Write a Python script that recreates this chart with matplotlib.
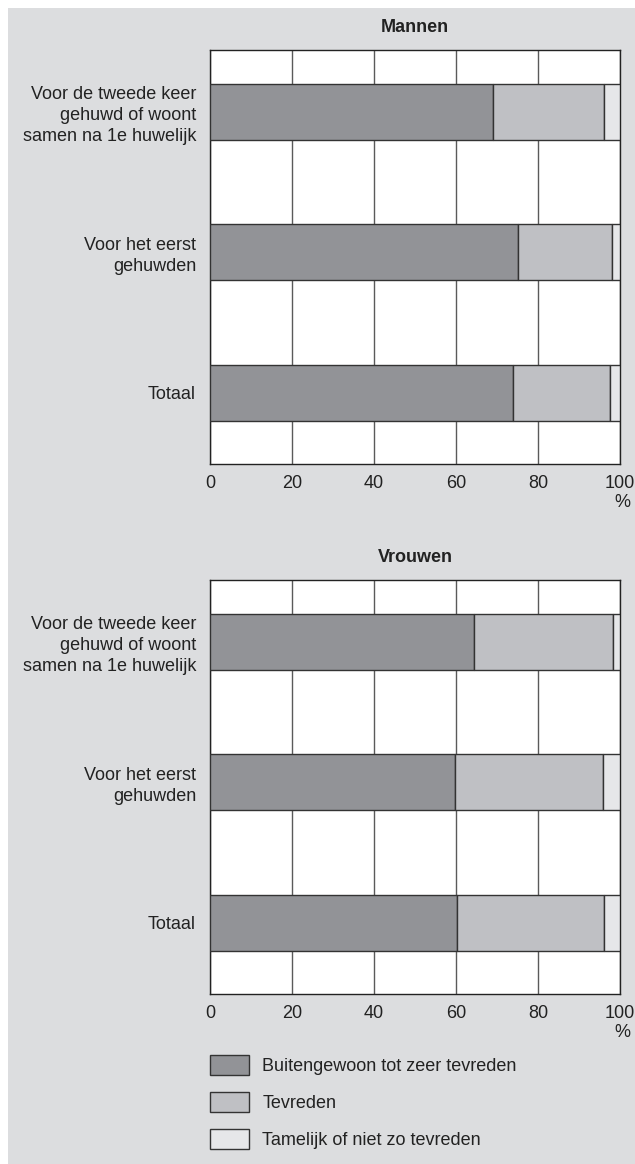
import matplotlib
matplotlib.use("Agg")
import matplotlib.pyplot as plt
from matplotlib.patches import Rectangle
import numpy as np

categories = ["Voor de tweede keer\ngehuwd of woont\nsamen na 1e huwelijk",
              "Voor het eerst\ngehuwden",
              "Totaal"]
series_names = ["Buitengewoon tot zeer tevreden", "Tevreden", "Tamelijk of niet zo tevreden"]

mannen_zeer = [69, 75, 74]
mannen_tevreden = [27, 23, 23.5]
mannen_niet = [4, 2, 2.5]

vrouwen_zeer = [64.4, 59.8, 60.3]
vrouwen_tevreden = [34, 36, 35.8]
vrouwen_niet = [1.6, 4.2, 3.9]

xticks = [0, 20, 40, 60, 80, 100]

colors = ["#929397", "#bfc0c4", "#e6e7e9"]
bg = "#dcdddf"
edge = "#333333"
txt = "#222222"
FS = 13

plt.rcParams['font.family'] = ['Liberation Sans', 'DejaVu Sans']

W, H = 635, 1164
fig = plt.figure(figsize=(W / 100, H / 100), dpi=100)
fig.patch.set_facecolor("white")
fig.patches.append(Rectangle((8 / W, 0), 1 - 8 / W, 1 - 8 / H, transform=fig.transFigure,
                             facecolor=bg, edgecolor="none", zorder=-10))


def make_axes(top_px, bottom_px):
    return fig.add_axes([210 / W, 1 - bottom_px / H, 410 / W, (bottom_px - top_px) / H])


def draw(ax, title, zeer, tev, niet):
    ypos = np.arange(len(categories))
    h = 0.4
    left = np.zeros(len(categories))
    bars = []
    for vals, c, name in zip([zeer, tev, niet], colors, series_names):
        b = ax.barh(ypos, vals, left=left, height=h, color=c, edgecolor=edge,
                    linewidth=1.0, label=name, zorder=3)
        left = left + np.array(vals)
        bars.append(b)
    ax.set_facecolor("white")
    ax.set_xlim(0, 100)
    ax.set_ylim(2.507, -0.439)
    ax.set_yticks(ypos)
    ax.set_yticklabels(categories, fontsize=FS, color=txt, linespacing=1.3)
    ax.set_xticks(xticks)
    ax.set_xticklabels([str(t) for t in xticks], fontsize=FS, color=txt)
    ax.tick_params(length=0, pad=10)
    ax.tick_params(axis='x', pad=8)
    ax.xaxis.grid(True, color="#5a5a5a", linewidth=1.0, zorder=1)
    ax.set_axisbelow(True)
    for s in ax.spines.values():
        s.set_color(txt)
        s.set_linewidth(1.0)
    ax.set_title(title, fontsize=FS, fontweight="bold", color=txt, pad=13)
    ax.text(1.025, -0.092, "%", transform=ax.transAxes, ha="right", va="center",
            fontsize=FS, color=txt)
    return bars


ax1 = make_axes(50, 464)
draw(ax1, "Mannen", mannen_zeer, mannen_tevreden, mannen_niet)
ax2 = make_axes(580, 994)
bars = draw(ax2, "Vrouwen", vrouwen_zeer, vrouwen_tevreden, vrouwen_niet)

fig.legend(handles=bars, labels=series_names, loc="upper left",
           bbox_to_anchor=(210 / W, 1 - 1055 / H), borderaxespad=0, borderpad=0,
           frameon=False, fontsize=FS, handlelength=2.17, handleheight=1.33,
           labelspacing=0.95, handletextpad=0.72, labelcolor=txt)

fig.savefig("out.png", dpi=100, facecolor=fig.get_facecolor())
